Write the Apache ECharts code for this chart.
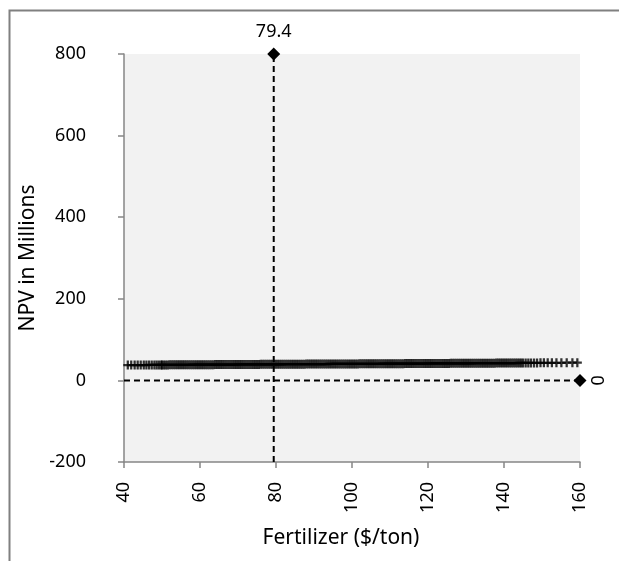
<!DOCTYPE html>
<html>
<head>
<meta charset="utf-8">
<script src="https://cdn.jsdelivr.net/npm/echarts@6/dist/echarts.min.js"></script>
<style>
html,body{margin:0;padding:0;background:#fff;}
#c{width:619px;height:561px;}
</style>
</head>
<body>
<div id="c"></div>
<script>
// Simulated NPV results (millions) vs fertilizer price ($/ton)
var fertilizer = [
  41.0,41.9,42.8,43.6,44.4,45.2,45.9,46.6,47.3,48.0,48.6,49.2,49.8,
  50.0,50.5,51.0,51.5,52.0,52.5,53.0,53.5,54.0,54.5,55.0,55.5,56.0,56.5,57.0,57.5,58.0,58.5,59.0,59.5,
  60.0,60.5,61.0,61.5,62.0,62.5,63.0,63.5,64.0,64.5,65.0,65.5,66.0,66.5,67.0,67.5,68.0,68.5,69.0,69.5,
  70.0,70.5,71.0,71.5,72.0,72.5,73.0,73.5,74.0,74.5,75.0,75.5,76.0,76.5,77.0,77.5,78.0,78.5,79.0,79.5,
  80.0,80.5,81.0,81.5,82.0,82.5,83.0,83.5,84.0,84.5,85.0,85.5,86.0,86.5,87.0,87.5,88.0,88.5,89.0,89.5,
  90.0,90.5,91.0,91.5,92.0,92.5,93.0,93.5,94.0,94.5,95.0,95.5,96.0,96.5,97.0,97.5,98.0,98.5,99.0,99.5,
  100.0,100.5,101.0,101.5,102.0,102.5,103.0,103.5,104.0,104.5,105.0,105.5,106.0,106.5,107.0,107.5,108.0,108.5,109.0,109.5,
  110.0,110.5,111.0,111.5,112.0,112.5,113.0,113.5,114.0,114.5,115.0,115.5,116.0,116.5,117.0,117.5,118.0,118.5,119.0,119.5,
  120.0,120.5,121.0,121.5,122.0,122.5,123.0,123.5,124.0,124.5,125.0,125.5,126.0,126.5,127.0,127.5,128.0,128.5,129.0,129.5,
  130.0,130.5,131.0,131.5,132.0,132.5,133.0,133.5,134.0,134.5,135.0,135.5,136.0,136.5,137.0,137.5,138.0,138.5,139.0,139.5,
  140.0,140.5,141.0,141.5,142.0,142.5,143.0,143.5,144.0,144.5,145.0,
  145.7,146.4,147.1,147.9,148.7,149.6,150.5,151.5,152.6,153.8,155.1,156.5,158.0,159.3
];
var npv = [
  37.5,37.5,37.6,37.6,37.7,37.7,37.7,37.8,37.8,37.8,37.9,37.9,37.9,
  38.0,38.0,38.0,38.0,38.1,38.1,38.1,38.1,38.2,38.2,38.2,38.2,38.3,38.3,38.3,38.3,38.4,38.4,38.4,38.4,
  38.5,38.5,38.5,38.5,38.6,38.6,38.6,38.6,38.7,38.7,38.7,38.7,38.8,38.8,38.8,38.8,38.9,38.9,38.9,38.9,
  39.0,39.0,39.0,39.0,39.1,39.1,39.1,39.1,39.2,39.2,39.2,39.2,39.3,39.3,39.3,39.3,39.4,39.4,39.4,39.4,
  39.5,39.5,39.5,39.5,39.6,39.6,39.6,39.6,39.7,39.7,39.7,39.7,39.8,39.8,39.8,39.8,39.9,39.9,39.9,39.9,
  40.0,40.0,40.0,40.0,40.1,40.1,40.1,40.1,40.2,40.2,40.2,40.2,40.3,40.3,40.3,40.3,40.4,40.4,40.4,40.4,
  40.5,40.5,40.5,40.5,40.6,40.6,40.6,40.6,40.7,40.7,40.7,40.7,40.8,40.8,40.8,40.8,40.9,40.9,40.9,40.9,
  41.0,41.0,41.0,41.0,41.1,41.1,41.1,41.1,41.2,41.2,41.2,41.2,41.3,41.3,41.3,41.3,41.4,41.4,41.4,41.4,
  41.5,41.5,41.5,41.5,41.6,41.6,41.6,41.6,41.7,41.7,41.7,41.7,41.8,41.8,41.8,41.8,41.9,41.9,41.9,41.9,
  42.0,42.0,42.0,42.0,42.1,42.1,42.1,42.1,42.2,42.2,42.2,42.2,42.3,42.3,42.3,42.3,42.4,42.4,42.4,42.4,
  42.5,42.5,42.5,42.5,42.6,42.6,42.6,42.6,42.7,42.7,42.7,
  42.8,42.8,42.8,42.9,42.9,43.0,43.0,43.1,43.1,43.2,43.2,43.3,43.4,43.5
];
// Break-even reference lines
var breakEvenPrice = 79.4;
var breakEvenNpv = 0;
var xTicks = [40, 60, 80, 100, 120, 140, 160];
var yTicks = [-200, 0, 200, 400, 600, 800];

var FONT = 'Noto Sans';
var scatterData = fertilizer.map(function (x, i) { return [x, npv[i]]; });
var plus = 'path://M-0.25,-1h0.5v0.75h0.75v0.5h-0.75v0.75h-0.5v-0.75h-0.75v-0.5h0.75z';

var chart = echarts.init(document.getElementById('c'), null, {renderer: 'canvas'});
chart.setOption({
  animation: false,
  backgroundColor: '#ffffff',
  graphic: [{
    type: 'rect', left: 7, top: 8, z: 100,
    shape: {width: 700, height: 700},
    style: {fill: 'none', stroke: '#808080', lineWidth: 2}
  }],
  grid: {left: 124, right: 39, top: 54, bottom: 99, show: true, backgroundColor: '#f2f2f2', borderWidth: 0},
  xAxis: {
    type: 'value', min: xTicks[0], max: xTicks[xTicks.length - 1], interval: 20,
    name: 'Fertilizer ($/ton)', nameLocation: 'middle', nameGap: 66,
    nameTextStyle: {fontFamily: FONT, fontSize: 21, color: '#000', padding: [0, 22, 0, 0]},
    axisLine: {onZero: false, lineStyle: {color: '#868686', width: 1.5}},
    axisTick: {show: true, length: 6, lineStyle: {color: '#868686', width: 1.5}},
    axisLabel: {rotate: 90, fontFamily: FONT, fontSize: 18, color: '#000', margin: 20},
    splitLine: {show: false}
  },
  yAxis: {
    type: 'value', min: yTicks[0], max: yTicks[yTicks.length - 1], interval: 200,
    name: 'NPV in Millions', nameLocation: 'middle', nameGap: 82,
    nameTextStyle: {fontFamily: FONT, fontSize: 21, color: '#000'},
    axisLine: {show: true, onZero: false, lineStyle: {color: '#868686', width: 1.5}},
    axisTick: {show: true, length: 6, lineStyle: {color: '#868686', width: 1.5}},
    axisLabel: {fontFamily: FONT, fontSize: 18, color: '#000', margin: 38},
    splitLine: {show: false}
  },
  series: [
    {
      type: 'scatter', data: scatterData, symbol: plus, symbolSize: 9,
      itemStyle: {color: '#000'}, z: 3
    },
    {
      type: 'line', z: 4,
      data: [
        {value: [breakEvenPrice, yTicks[0]], symbol: 'none'},
        {value: [breakEvenPrice, yTicks[yTicks.length - 1]], symbol: 'diamond', symbolSize: 13,
         label: {show: true, position: 'top', formatter: String(breakEvenPrice), fontFamily: FONT, fontSize: 18, color: '#000', distance: 7}}
      ],
      lineStyle: {color: '#000', width: 2, type: [6, 4]},
      itemStyle: {color: '#000'}
    },
    {
      type: 'line', z: 4,
      data: [
        {value: [xTicks[0], breakEvenNpv], symbol: 'none'},
        {value: [xTicks[xTicks.length - 1], breakEvenNpv], symbol: 'diamond', symbolSize: 13,
         label: {show: true, position: 'right', rotate: -90, formatter: String(breakEvenNpv), fontFamily: FONT, fontSize: 18, color: '#000', distance: 10, align: 'center', verticalAlign: 'middle'}}
      ],
      lineStyle: {color: '#000', width: 2, type: [6, 4]},
      itemStyle: {color: '#000'}
    }
  ]
});
</script>
</body>
</html>
